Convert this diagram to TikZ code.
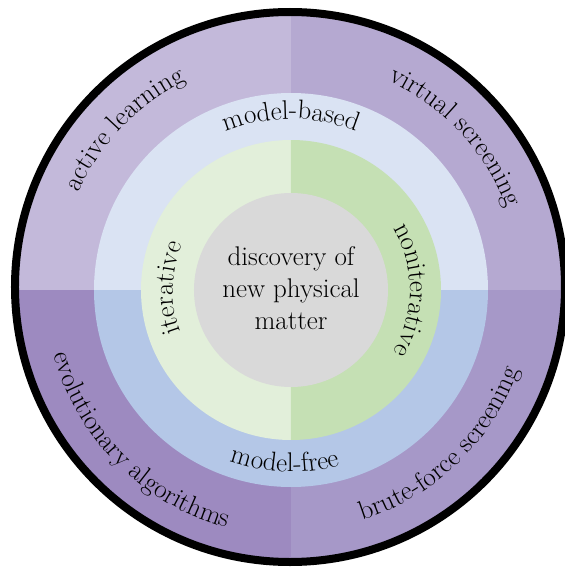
\documentclass[tikz,border=0pt]{standalone}
\usepackage{tikz}
\usetikzlibrary{decorations.text}
\tikzstyle{every picture}=[x=1pt,y=1pt]
\definecolor{activecol}{HTML}{C3B9DA}
\definecolor{virtualcol}{HTML}{B5A9D1}
\definecolor{evolcol}{HTML}{9D8AC0}
\definecolor{brutecol}{HTML}{A698C8}
\definecolor{basedcol}{HTML}{DAE3F3}
\definecolor{freecol}{HTML}{B4C7E7}
\definecolor{itercol}{HTML}{E2EFDA}
\definecolor{noitercol}{HTML}{C5E0B4}
\definecolor{corecol}{HTML}{D9D9D9}
\newcommand{\ringfont}{\fontsize{27}{32}\selectfont}
\tikzset{ringtext/.style={decorate,decoration={text along path,text align=center,
    text={|\ringfont|#1}}}}

\begin{document}
\begin{tikzpicture}
            \useasboundingbox (-291,-281) rectangle (274,290);
            \coordinate (o) at (0,0);
            \coordinate (rim) at (-1,3);

            % outer quarters
            \begin{scope}
                \clip (rim) circle (272);
                \fill[activecol] (o) rectangle (-300,300);
                \fill[virtualcol] (o) rectangle (300,300);
                \fill[evolcol] (o) rectangle (-300,-300);
                \fill[brutecol] (o) rectangle (300,-300);
            \end{scope}
            \draw[line width=8] (rim) circle (275);

            % model-based / model-free
            \fill[basedcol] (o) -- (197,0) arc (0:180:197) -- cycle;
            \fill[freecol] (o) -- (-197,0) arc (180:360:197) -- cycle;

            % iterative / noniterative
            \fill[itercol] (o) -- (0,150) arc (90:270:150) -- cycle;
            \fill[noitercol] (o) -- (0,-150) arc (-90:90:150) -- cycle;

            \fill[corecol] (o) circle (97);
            \node[align=center,font=\ringfont] (matter) at (0,2)
                {discovery of\\new physical\\matter};

            \path[ringtext=model-based] (135:171) arc (135:45:171);
            \path[ringtext=model-free] (223:182) arc (223:313:182);
            \path[ringtext=iterative] (224:118) arc (224:134:118);
            \path[ringtext=noniterative] (45:119) arc (45:-45:119);

            \path[ringtext=active learning] (181:234) arc (181:91:234);
            \path[ringtext=virtual screening] (88:231) arc (88:-2:231);
            \path[ringtext=evolutionary algorithms] (180:246) arc (180:270:246);
            \path[ringtext=brute-force screening] (269:241) arc (269:359:241);
        \end{tikzpicture}
\end{document}
